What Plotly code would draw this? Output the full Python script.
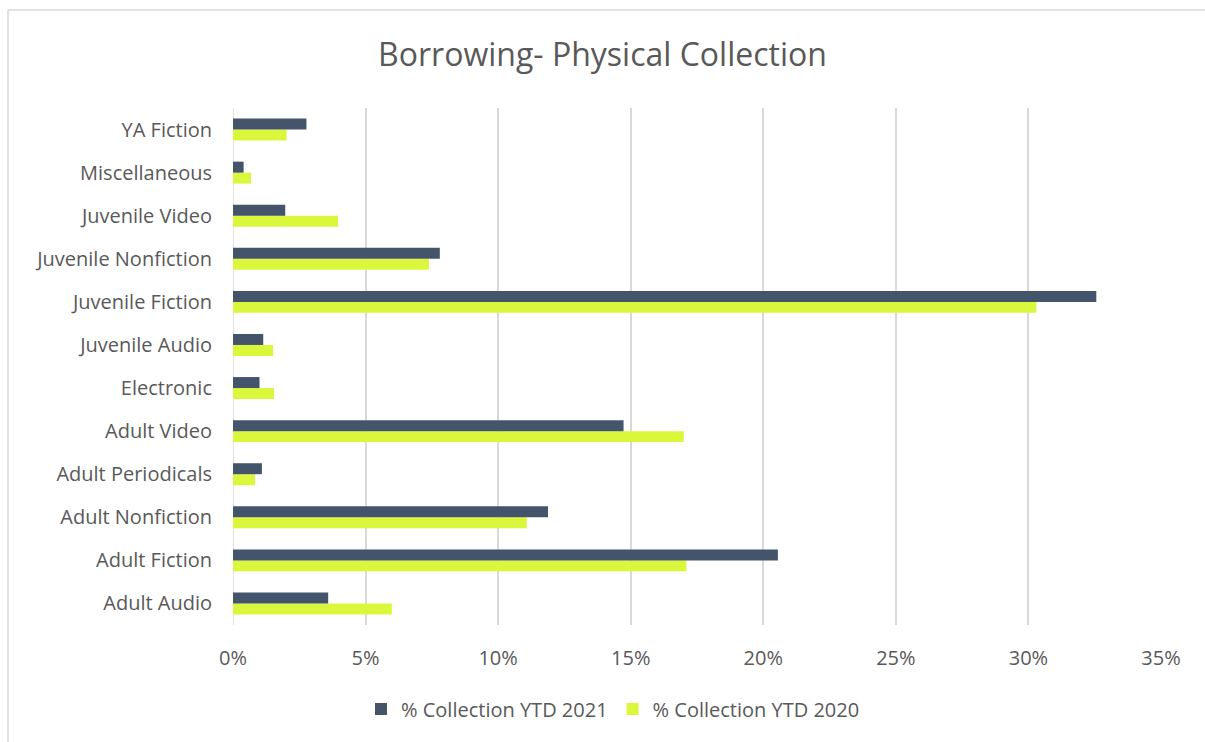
import plotly.graph_objects as go

categories = ["Adult Audio", "Adult Fiction", "Adult Nonfiction", "Adult Periodicals",
              "Adult Video", "Electronic", "Juvenile Audio", "Juvenile Fiction",
              "Juvenile Nonfiction", "Juvenile Video", "Miscellaneous", "YA Fiction"]
ytd_2021 = [3.59, 20.55, 11.88, 1.09, 14.73, 1.00, 1.14, 32.56, 7.80, 1.97, 0.40, 2.77]
ytd_2020 = [5.99, 17.10, 11.08, 0.83, 17.00, 1.55, 1.51, 30.30, 7.39, 3.96, 0.68, 2.02]
x_ticks = [0, 5, 10, 15, 20, 25, 30, 35]

grey = "#595959"
FONT = "'Open Sans', sans-serif"
fig = go.Figure()
fig.add_trace(go.Bar(y=categories, x=ytd_2020, orientation="h", name="% Collection YTD 2020",
                     marker=dict(color="#DBF73B", line=dict(width=0))))
fig.add_trace(go.Bar(y=categories, x=ytd_2021, orientation="h", name="% Collection YTD 2021",
                     marker=dict(color="#44546A", line=dict(width=0))))

W, H = 1205, 742
L, R, T, B = 233, 44, 108, 117
pw, ph = W - L - R, H - T - B

def px_x(p):
    return (p - L) / pw

def px_y(p):
    return (H - B - p) / ph

fig.update_layout(
    width=W, height=H,
    margin=dict(l=L, r=R, t=T, b=B),
    paper_bgcolor="white", plot_bgcolor="white",
    barmode="group", bargap=0.49, bargroupgap=0,
    font=dict(family=FONT, color=grey, size=20),
    title=dict(text="Borrowing- Physical Collection", x=0.5, xref="container",
               xanchor="center", y=1 - 55 / H, yref="container", yanchor="middle",
               font=dict(size=32, color=grey, family=FONT)),
    xaxis=dict(range=[0, 35], tickvals=x_ticks, ticktext=[f"{v}%" for v in x_ticks],
               showgrid=True, gridcolor="#D9D9D9", gridwidth=1.5,
               zeroline=False, showline=False, ticks="", ticklabelstandoff=19,
               tickfont=dict(size=20, color=grey, family=FONT), fixedrange=True),
    yaxis=dict(showgrid=False, showline=False, ticks="", ticklabelstandoff=20,
               tickfont=dict(size=20, color=grey, family=FONT), categoryorder="array",
               categoryarray=categories),
    legend=dict(orientation="h", x=px_x(613), xanchor="center", y=px_y(709),
                yanchor="middle", traceorder="reversed",
                font=dict(size=20, color=grey, family=FONT), itemwidth=30),
    showlegend=True,
    shapes=[
        dict(type="line", xref="paper", yref="paper", x0=px_x(8), x1=px_x(1210),
             y0=px_y(10), y1=px_y(10), line=dict(color="#D9D9D9", width=1.5)),
        dict(type="line", xref="paper", yref="paper", x0=px_x(8), x1=px_x(8),
             y0=px_y(10), y1=px_y(750), line=dict(color="#D9D9D9", width=1.5)),
        dict(type="line", xref="x", yref="paper", x0=0, x1=0, y0=0, y1=1,
             line=dict(color="#D9D9D9", width=1.5), layer="below"),
    ],
)

fig.write_html("out.html", config={"displayModeBar": False},
               post_script="document.body.style.margin='0';")
